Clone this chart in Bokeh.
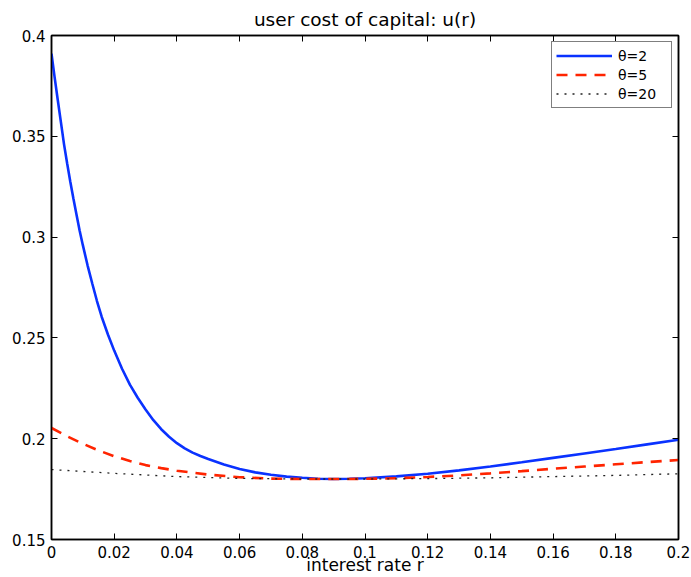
from bokeh.plotting import figure
from bokeh.models import LinearAxis, FixedTicker, Legend, LegendItem, Range1d
from bokeh.embed import file_html
from bokeh.resources import INLINE

# user cost u(r) for three values of theta
rates_theta2 = [0, 0.001, 0.002, 0.003, 0.004, 0.005, 0.006, 0.007, 0.008, 0.009,
                0.010, 0.0115, 0.013, 0.0145, 0.016, 0.018, 0.020, 0.0225, 0.025,
                0.0275, 0.030, 0.0325, 0.035, 0.0375, 0.040, 0.0425, 0.045, 0.0475,
                0.050, 0.055, 0.060, 0.065, 0.070, 0.075, 0.080, 0.085, 0.090,
                0.095, 0.100, 0.110, 0.120, 0.130, 0.140, 0.150, 0.160, 0.170,
                0.180, 0.190, 0.200]
cost_theta2 = [0.391, 0.3792, 0.368, 0.357, 0.346, 0.3365, 0.3275, 0.319, 0.311, 0.303,
               0.296, 0.286, 0.277, 0.2683, 0.2605, 0.2517, 0.2437, 0.2347, 0.2268,
               0.2203, 0.2145, 0.2092, 0.2047, 0.2010, 0.1978, 0.1952, 0.1931, 0.1914,
               0.1899, 0.1872, 0.1850, 0.1833, 0.1821, 0.1812, 0.1806, 0.1801, 0.1800,
               0.1801, 0.1804, 0.1813, 0.1826, 0.1843, 0.1862, 0.1883, 0.1905, 0.1927,
               0.1949, 0.1972, 0.1995]

rates_theta5 = [0, 0.005, 0.01, 0.015, 0.02, 0.025, 0.03, 0.035, 0.04, 0.05, 0.06,
                0.07, 0.08, 0.09, 0.10, 0.11, 0.12, 0.13, 0.14, 0.15, 0.16, 0.17,
                0.18, 0.19, 0.20]
cost_theta5 = [0.2053, 0.2012, 0.1975, 0.1942, 0.1913, 0.1889, 0.1869, 0.1854, 0.1841,
               0.1822, 0.1809, 0.1802, 0.1800, 0.1800, 0.1801, 0.1804, 0.1810, 0.1818,
               0.1828, 0.1839, 0.1851, 0.1862, 0.1873, 0.1884, 0.1894]

rates_theta20 = [0, 0.02, 0.04, 0.06, 0.08, 0.10, 0.12, 0.14, 0.16, 0.18, 0.20]
cost_theta20 = [0.1847, 0.1828, 0.1812, 0.1803, 0.1800, 0.1800, 0.1802, 0.1806,
                0.1812, 0.1818, 0.1826]

series_labels = ["θ=2", "θ=5", "θ=20"]

x_ticks = [0, 0.02, 0.04, 0.06, 0.08, 0.10, 0.12, 0.14, 0.16, 0.18, 0.20]
x_tick_labels = ["0", "0.02", "0.04", "0.06", "0.08", "0.1", "0.12", "0.14",
                 "0.16", "0.18", "0.2"]
y_ticks = [0.15, 0.20, 0.25, 0.30, 0.35, 0.40]
y_tick_labels = ["0.15", "0.2", "0.25", "0.3", "0.35", "0.4"]

FONT = "DejaVu Sans"

p = figure(width=691, height=577,
           x_range=Range1d(0, 0.2), y_range=Range1d(0.15, 0.4),
           output_backend="svg", toolbar_location=None,
           min_border_left=51, min_border_right=13,
           min_border_top=35, min_border_bottom=38,
           title="user cost of capital: u(r)")

p.title.align = "center"
p.title.text_font = FONT
p.title.text_font_size = "18.5px"
p.title.text_font_style = "normal"
p.title.text_color = "black"
p.title.standoff = 12

p.background_fill_color = "white"
p.border_fill_color = "white"
p.outline_line_color = "black"
p.outline_line_width = 1.5
p.xgrid.grid_line_color = None
p.ygrid.grid_line_color = None


def style_axis(ax, ticks, labels, show_labels=True):
    ax.ticker = FixedTicker(ticks=ticks)
    ax.major_tick_in = 6
    ax.major_tick_out = 0
    ax.major_tick_line_color = "black"
    ax.major_tick_line_width = 1
    ax.minor_tick_line_color = None
    ax.axis_line_color = "black"
    ax.axis_line_width = 1.5
    ax.major_label_text_font = FONT
    ax.major_label_text_color = "black"
    if show_labels:
        ax.major_label_overrides = {t: l for t, l in zip(ticks, labels)}
        ax.major_label_text_font_size = "15px"
        ax.major_label_standoff = 6
    else:
        ax.major_label_overrides = {t: "" for t in ticks}
        ax.major_label_text_font_size = "1px"
        ax.major_label_standoff = 0


style_axis(p.xaxis[0], x_ticks, x_tick_labels)
style_axis(p.yaxis[0], y_ticks, y_tick_labels)
p.xaxis[0].major_label_standoff = 6
p.xaxis[0].axis_label = "interest rate r"
p.xaxis[0].axis_label_text_font = FONT
p.xaxis[0].axis_label_text_font_size = "17px"
p.xaxis[0].axis_label_text_font_style = "normal"
p.xaxis[0].axis_label_text_color = "black"
p.xaxis[0].axis_label_standoff = -6

# mirrored ticks on the top and right edges of the box
top_axis = LinearAxis()
style_axis(top_axis, x_ticks, x_tick_labels, show_labels=False)
p.add_layout(top_axis, "above")
right_axis = LinearAxis()
style_axis(right_axis, y_ticks, y_tick_labels, show_labels=False)
p.add_layout(right_axis, "right")

r1 = p.line(rates_theta2, cost_theta2, line_color="#0a32ff", line_width=2.6)
r2 = p.line(rates_theta5, cost_theta5, line_color="#ff2400", line_width=2.6,
            line_dash="11 8")
r3 = p.line(rates_theta20, cost_theta20, line_color="#222222", line_width=1.3,
            line_dash="2 6")

legend = Legend(items=[LegendItem(label=series_labels[0], renderers=[r1]),
                       LegendItem(label=series_labels[1], renderers=[r2]),
                       LegendItem(label=series_labels[2], renderers=[r3])],
                location="top_right")
legend.margin = 6
legend.padding = 4
legend.spacing = 0
legend.label_height = 19
legend.glyph_height = 19
legend.glyph_width = 56
legend.label_standoff = 6
legend.label_width = 49
legend.border_line_color = "black"
legend.border_line_width = 1
legend.background_fill_color = "white"
legend.background_fill_alpha = 1
legend.label_text_font = FONT
legend.label_text_font_size = "14px"
legend.label_text_color = "black"
p.add_layout(legend)

open("out.html", "w").write(file_html(p, INLINE))
